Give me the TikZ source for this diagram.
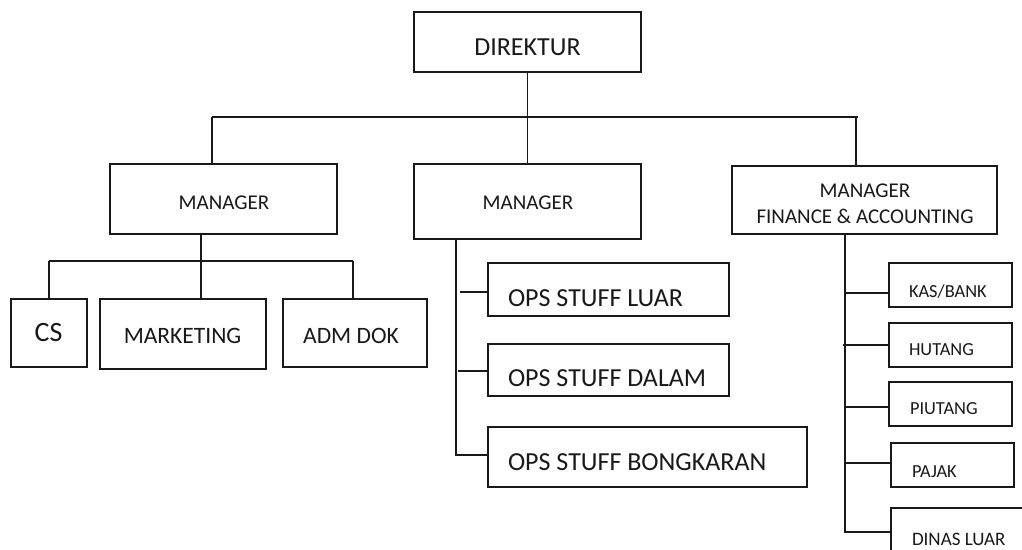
\documentclass[tikz,border=0pt]{standalone}
\usepackage{fontspec}
\setmainfont{Carlito}
\tikzset{
  box/.style={draw, rectangle, inner sep=0pt, outer sep=0pt},
  lbl/.style={inner sep=0pt, outer sep=0pt, anchor=base},
  lblw/.style={inner sep=0pt, outer sep=0pt, anchor=base west},
  link/.style={draw},
}
\newcommand{\fs}[1]{\fontsize{#1}{#1}\selectfont}
\begin{document}
\begin{tikzpicture}[x=1pt, y=-1pt, line width=1.2pt, color=black!90]
  % page area
  \fill[white] (0,0) rectangle (1022,549);
  \clip (0,0) rectangle (1022,549);

  % top level
  \node[box, minimum width=227pt, minimum height=60pt] (dir) at (527.5,42) {};
  \node[lbl, font=\fs{26}] (dirT) at (527.5,55) {DIREKTUR};

  % managers
  \node[box, minimum width=227pt, minimum height=70pt] (m1) at (223.5,199) {};
  \node[lbl, font=\fs{21}] (m1T) at (224,209.3) {MANAGER};
  \node[box, minimum width=227pt, minimum height=75pt] (m2) at (527.5,201.5) {};
  \node[lbl, font=\fs{21}] (m2T) at (528,209.3) {MANAGER};
  \node[box, minimum width=265pt, minimum height=68pt] (m3) at (864.5,200) {};
  \node[lbl, font=\fs{21}] (m3Ta) at (865,197.3) {MANAGER};
  \node[lbl, font=\fs{21}] (m3Tb) at (865,223.3) {FINANCE \& ACCOUNTING};

  % staff under the first manager
  \node[box, minimum width=76pt, minimum height=68pt] (cs) at (49,333) {};
  \node[lbl, font=\fs{28}] (csT) at (48.5,341) {CS};
  \node[box, minimum width=166pt, minimum height=70pt] (mk) at (183,334) {};
  \node[lbl, font=\fs{23.5}] (mkT) at (182.5,343.3) {MARKETING};
  \node[box, minimum width=144pt, minimum height=68pt] (adm) at (355,333) {};
  \node[lbl, font=\fs{23.5}] (admT) at (351,343.3) {ADM DOK};

  % operations
  \node[box, minimum width=241pt, minimum height=53pt] (ol) at (608.5,289.5) {};
  \node[lblw, font=\fs{26}] (olT) at (508,306.5) {OPS STUFF LUAR};
  \node[box, minimum width=241pt, minimum height=52pt] (od) at (608.5,370) {};
  \node[lblw, font=\fs{26}] (odT) at (508,386.5) {OPS STUFF DALAM};
  \node[box, minimum width=319pt, minimum height=60pt] (ob) at (647.5,457) {};
  \node[lblw, font=\fs{26}] (obT) at (508,470.5) {OPS STUFF BONGKARAN};

  % finance
  \node[box, minimum width=123pt, minimum height=44pt] (kas) at (950.5,285) {};
  \node[lblw, font=\fs{18.4}] (kasT) at (909,297.5) {KAS/BANK};
  \node[box, minimum width=123pt, minimum height=44pt] (hut) at (950.5,345) {};
  \node[lblw, font=\fs{18.4}] (hutT) at (909,355) {HUTANG};
  \node[box, minimum width=123pt, minimum height=44pt] (piu) at (950.5,404) {};
  \node[lblw, font=\fs{18.4}] (piuT) at (910,414) {PIUTANG};
  \node[box, minimum width=123pt, minimum height=44pt] (paj) at (952.5,465) {};
  \node[lblw, font=\fs{18.4}] (pajT) at (912,477) {PAJAK};
  \node[box, minimum width=150pt, minimum height=70pt] (din) at (966,543) {};
  \node[lblw, font=\fs{19}] (dinT) at (912,545) {DINAS LUAR};

  % director to managers
  \coordinate (busL) at (212,117);
  \coordinate (busR) at (858,117);
  \coordinate (dropR) at (856,117);
  \draw (dir.south) -- (dir.south |- busL);
  \draw (busL) -- (busR);
  \draw (busL) -- (busL |- m1.north);
  \draw (dir.south |- busL) -- (m2.north);
  \draw (dropR) -- (dropR |- m3.north);

  % first manager to staff
  \coordinate (m1j) at (201,261);
  \coordinate (busA) at (49,261);
  \coordinate (busB) at (353,261);
  \draw (m1j |- m1.south) -- (m1j) -- (m1j |- mk.north);
  \draw (busA) -- (busB);
  \draw (busA) -- (busA |- cs.north);
  \draw (busB) -- (busB |- adm.north);

  % second manager to operations
  \coordinate (m2j) at (456,455);
  \coordinate (t1) at (460,292);
  \coordinate (t2) at (458,371);
  \draw (m2j |- m2.south) -- (m2j) -- (m2j -| ob.west);
  \draw (t1) -- (t1 -| ol.west);
  \draw (t2) -- (t2 -| od.west);

  % finance manager to sections
  \coordinate (m3j) at (845,532);
  \coordinate (f1) at (845,293);
  \coordinate (f2) at (843,345);
  \coordinate (f3) at (845,407);
  \coordinate (f4) at (845,463);
  \draw (m3j |- m3.south) -- (m3j) -- (m3j -| din.west);
  \draw (f1) -- (f1 -| kas.west);
  \draw (f2) -- (f2 -| hut.west);
  \draw (f3) -- (f3 -| piu.west);
  \draw (f4) -- (f4 -| paj.west);
\end{tikzpicture}
\end{document}
